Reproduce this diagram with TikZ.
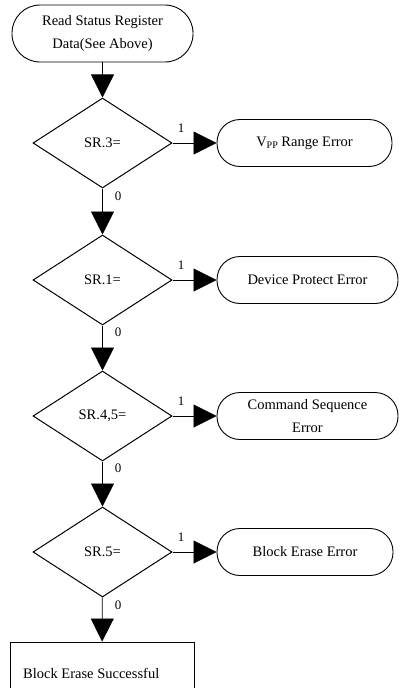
\documentclass[tikz,border=0pt]{standalone}
\usepackage{fontspec}
\setmainfont{Liberation Serif}
\usetikzlibrary{shapes.geometric,arrows.meta}
\begin{document}
\begin{tikzpicture}[x=1pt,y=-1pt,
  every node/.style={font=\fontsize{14.5}{23}\selectfont},
  term/.style={draw,line width=0.9pt,rounded corners=23pt,minimum width=177pt,minimum height=47pt,inner sep=0pt,align=center},
  decide/.style={draw,diamond,line width=1pt,minimum width=139pt,minimum height=90pt,inner sep=0pt},
  flow/.style={line width=0.8pt,-{Triangle[length=23pt,width=23pt]}},
  lab/.style={font=\fontsize{13}{13}\selectfont,inner sep=0pt}]
\useasboundingbox (0,0) rectangle (401,688);
\node[term,minimum width=181pt,minimum height=57pt,rounded corners=28pt] (start) at (102.5,33.5) {Read Status Register\\Data(See Above)};
\node[decide] (d1) at (102.5,143) {SR.3=};
\node[decide] (d2) at (102.5,280) {SR.1=};
\node[decide] (d3) at (102.5,416) {SR.4,5=};
\node[decide] (d4) at (102.5,552) {SR.5=};
\node[term,minimum width=175pt] (e1) at (304.5,143) {V{\fontsize{10}{10}\selectfont\raisebox{-2.5pt}{PP}} Range Error};
\node[term,minimum width=181pt] (e2) at (307.5,280) {Device Protect Error};
\node[term,minimum width=181pt] (e3) at (307.5,416) {Command Sequence\\Error};
\node[term,minimum width=176pt] (e4) at (305,552) {Block Erase Error};
\node[draw,line width=0.9pt,minimum width=184pt,minimum height=70pt,inner sep=0pt] (ok) at (102,677) {};
\node[anchor=west,inner sep=0pt] (oktext) at (23,673) {Block Erase Successful};
\draw[flow] (start) -- (d1);
\draw[flow] (d1) -- (d2);
\draw[flow] (d2) -- (d3);
\draw[flow] (d3) -- (d4);
\draw[flow] (d4) -- (ok);
\draw[flow] (d1) -- (e1);
\draw[flow] (d2) -- (e2);
\draw[flow] (d3) -- (e3);
\draw[flow] (d4) -- (e4);
\node[lab] (l1) at (181,128) {1};
\node[lab] (l2) at (181,265) {1};
\node[lab] (l3) at (181,401) {1};
\node[lab] (l4) at (181,537) {1};
\node[lab] (z1) at (118,196) {0};
\node[lab] (z2) at (118,332) {0};
\node[lab] (z3) at (118,468) {0};
\node[lab] (z4) at (118,605) {0};
\end{tikzpicture}
\end{document}
